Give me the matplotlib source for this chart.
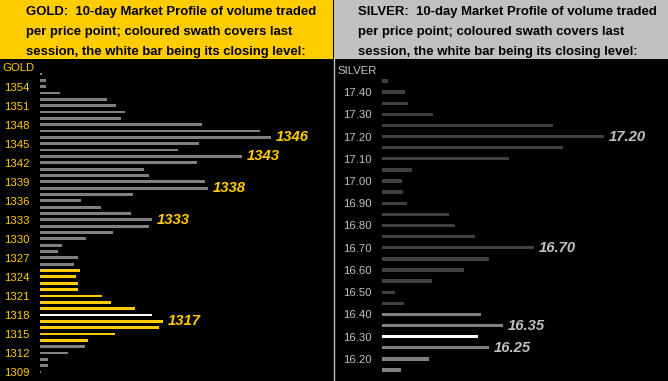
import numpy as np
import matplotlib
matplotlib.use("Agg")
import matplotlib.pyplot as plt
from matplotlib.patches import Rectangle

plt.rcParams['font.family'] = ['Liberation Sans', 'DejaVu Sans']

# Gold: price levels (top to bottom) and 10-day volume per level
gold_prices = list(range(1356, 1308, -1))
gold_volume = [2, 6, 6, 20, 67, 76, 85, 81, 162, 220, 231, 159, 138, 202, 157, 104,
               109, 165, 168, 93, 41, 61, 91, 112, 109, 73, 46, 22, 18, 38, 34, 40,
               36, 38, 38, 62, 71, 95, 112, 123, 119, 75, 48, 45, 28, 8, 8, 1]
gold_session = (1314, 1325)
gold_close = 1318
gold_ticks = list(range(1354, 1308, -3))
gold_labels = [1346, 1343, 1338, 1333, 1317]

# Silver
silver_prices = [round(17.45 - 0.05 * i, 2) for i in range(27)]
silver_volume = [6, 23, 26, 51, 171, 222, 181, 127, 30, 20, 21, 25, 67, 73, 93, 152,
                 107, 82, 50, 13, 22, 99, 121, 96, 107, 47, 19]
silver_session = (16.15, 16.40)
silver_close = 16.30
silver_ticks = [round(17.40 - 0.1 * i, 2) for i in range(13)]
silver_labels = [17.20, 16.70, 16.35, 16.25]

W, H = 668, 381
fig = plt.figure(figsize=(W / 100, H / 100), dpi=100, facecolor='black')

TITLE_H = 59
YELLOW = '#FFCC00'
SILVERC = '#C0C0C0'


def fx(x):
    return x / W


def fy(y):
    # y measured from top in pixels
    return 1 - y / H


# title boxes
fig.patches.append(Rectangle((0, fy(TITLE_H)), fx(333), TITLE_H / H, transform=fig.transFigure,
                             facecolor=YELLOW, edgecolor='none'))
fig.patches.append(Rectangle((fx(334), fy(TITLE_H)), fx(334), TITLE_H / H, transform=fig.transFigure,
                             facecolor=SILVERC, edgecolor='none'))
# divider
fig.add_artist(plt.Line2D([fx(333.5), fx(333.5)], [0, fy(TITLE_H)], transform=fig.transFigure,
                          color=SILVERC, lw=1))

gold_title = ["GOLD:  10-day Market Profile of volume traded",
              "per price point; coloured swath covers last",
              "session, the white bar being its closing level:"]
silver_title = ["SILVER:  10-day Market Profile of volume traded",
                "per price point; coloured swath covers last",
                "session, the white bar being its closing level:"]
for i, (g, s) in enumerate(zip(gold_title, silver_title)):
    yb = 15 + 20 * i
    fig.text(fx(26), fy(yb), g, fontsize=9.45, fontweight='bold', color='black', va='baseline')
    fig.text(fx(358), fy(yb), s, fontsize=9.45, fontweight='bold', color='black', va='baseline')


def profile(ax, prices, volume, session, close, step, bar_frac, base_col, sess_col,
            ticks, fmt, tick_col, labels, lab_col):
    prices = np.array(prices)
    volume = np.array(volume)
    cols = []
    for p in prices:
        if abs(p - close) < step / 10:
            cols.append('white')
        elif session[0] - step / 10 <= p <= session[1] + step / 10:
            cols.append(sess_col)
        else:
            cols.append(base_col)
    ax.barh(prices, volume, height=step * bar_frac, color=cols, left=0)
    for lab in labels:
        idx = int(np.argmin(np.abs(prices - lab)))
        ax.text(volume[idx] + 5, prices[idx], fmt.format(lab), color=lab_col, fontsize=10.7,
                fontweight='bold', fontstyle='italic', va='center', ha='left')
    ax.set_facecolor('black')
    ax.set_yticks(ticks)
    ax.set_yticklabels([fmt.format(t) for t in ticks])
    ax.tick_params(axis='y', length=0, pad=7.3, colors=tick_col, labelsize=8.2)
    ax.set_xticks([])
    for sp in ax.spines.values():
        sp.set_visible(False)


# gold axes: bars start at x=40px, 1356 at y=74 from top, 1309 at y=372
ax_g = fig.add_axes([fx(40), 0, fx(293), (H - TITLE_H) / H])
ppp = (372 - 74) / 47
ax_g.set_ylim(1309 - 9 / ppp, 1356 + (322 - 307) / ppp)
ax_g.set_xlim(0, 293)
profile(ax_g, gold_prices, gold_volume, gold_session, gold_close, 1, 0.44, '#808080', YELLOW,
        gold_ticks, '{:d}', YELLOW, gold_labels, YELLOW)
fig.text(fx(2), fy(68), 'GOLD', color=YELLOW, fontsize=8.2, va='center', ha='left')

# silver axes: bars start at x=382px, 17.45 at y=81 from top, 16.15 at y=370
ax_s = fig.add_axes([fx(382), 0, fx(286), (H - TITLE_H) / H])
pps = (370 - 81) / 26
ax_s.set_ylim(16.15 - 11 / pps * 0.05, 17.45 + (322 - 300) / pps * 0.05)
ax_s.set_xlim(0, 286)
profile(ax_s, silver_prices, silver_volume, silver_session, silver_close, 0.05, 0.3, '#404040',
        '#808080', silver_ticks, '{:.2f}', SILVERC, silver_labels, SILVERC)
fig.text(fx(337), fy(71), 'SILVER', color=SILVERC, fontsize=8.2, va='center', ha='left')

fig.savefig('out.png', dpi=100, facecolor='black')
